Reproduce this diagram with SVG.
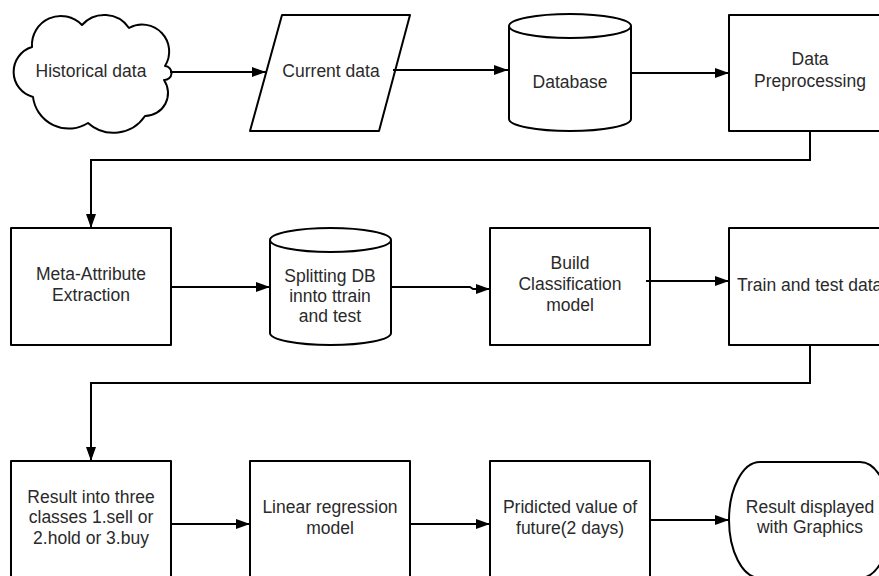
<svg xmlns="http://www.w3.org/2000/svg" width="879" height="576" viewBox="0 0 879 576">
<defs>
<marker id="arr" markerUnits="userSpaceOnUse" markerWidth="15" markerHeight="11" refX="14" refY="5" orient="auto">
<path d="M0,0 L14,5 L0,10 Z" fill="#000"/>
</marker>
<style>
.s{fill:#fff;stroke:#000;stroke-width:2;stroke-linejoin:round}
.t{font-family:"Liberation Sans",Arial,sans-serif;font-size:17.5px;fill:#2a2a2a;text-anchor:middle}
.c{fill:none;stroke:#000;stroke-width:2;marker-end:url(#arr)}
</style>
</defs>
<rect width="879" height="576" fill="#fff"/>
<g id="historical">
<path class="s" d="M33,97 A26,26 0 0 1 32,47 A29,29 0 0 1 82,25 A30,30 0 0 1 129,28 A27,27 0 0 1 165,66 A7,7 0 0 1 164,80 A23,23 0 0 1 145,116 A38,38 0 0 1 88,123 A36,36 0 0 1 33,97 Z"/>
<text class="t" x="91" y="77">Historical data</text>
</g>
<g id="current">
<path class="s" d="M282,15 L410,15 L379,131 L250,131 Z"/>
<text class="t" x="331" y="77">Current data</text>
</g>
<g id="database">
<path class="s" d="M509,26 A61,12 0 0 1 631,26 V119 A61,12 0 0 1 509,119 Z"/>
<path class="s" fill="none" d="M509,26 A61,12 0 0 0 631,26"/>
<text class="t" x="570" y="88">Database</text>
</g>
<g id="preprocessing">
<rect class="s" x="729" y="15" width="162" height="116"/>
<text class="t" x="810" y="65">Data</text>
<text class="t" x="810" y="87">Preprocessing</text>
</g>
<g id="meta">
<rect class="s" x="11" y="228" width="160" height="117"/>
<text class="t" x="91" y="280">Meta-Attribute</text>
<text class="t" x="91" y="301">Extraction</text>
</g>
<g id="splitting">
<path class="s" d="M270,240 A60.5,12 0 0 1 391,240 V333 A60.5,12 0 0 1 270,333 Z"/>
<path class="s" fill="none" d="M270,240 A60.5,12 0 0 0 391,240"/>
<text class="t" x="330" y="282">Splitting DB</text>
<text class="t" x="330" y="302">innto ttrain</text>
<text class="t" x="330" y="322">and test</text>
</g>
<g id="build">
<rect class="s" x="490" y="228" width="160" height="117"/>
<text class="t" x="570" y="269">Build</text>
<text class="t" x="570" y="290">Classification</text>
<text class="t" x="570" y="311">model</text>
</g>
<g id="train">
<rect class="s" x="729" y="228" width="162" height="117"/>
<text class="t" x="737" y="291" style="text-anchor:start">Train and test data</text>
</g>
<g id="result3">
<rect class="s" x="11" y="461" width="160" height="117"/>
<text class="t" x="91" y="503">Result into three</text>
<text class="t" x="91" y="523">classes 1.sell or</text>
<text class="t" x="91" y="544">2.hold or 3.buy</text>
</g>
<g id="linear">
<rect class="s" x="250" y="461" width="160" height="117"/>
<text class="t" x="330" y="513">Linear regression</text>
<text class="t" x="330" y="534">model</text>
</g>
<g id="predicted">
<rect class="s" x="490" y="461" width="160" height="117"/>
<text class="t" x="570" y="513">Pridicted value of</text>
<text class="t" x="570" y="534">future(2 days)</text>
</g>
<g id="display">
<path class="s" d="M760,462 H860 C878,462 891,490 891,520 C891,550 878,578 860,578 H760 C742,578 729,550 729,520 C729,490 742,462 760,462 Z"/>
<text class="t" x="810" y="513">Result displayed</text>
<text class="t" x="810" y="533">with Graphics</text>
</g>
<g id="connectors">
<path class="c" d="M170,72 H266"/>
<path class="c" d="M393,70 H508"/>
<path class="c" d="M631,73 H729"/>
<path class="c" d="M810,131 V160 H91 V228"/>
<path class="c" d="M171,287 H270"/>
<path class="c" d="M391,287 H470 L473,289 H490"/>
<path class="c" d="M646,281 H729"/>
<path class="c" d="M810,345 V383 H91 V461"/>
<path class="c" d="M171,524 H250"/>
<path class="c" d="M410,524 H490"/>
<path class="c" d="M650,520 H729"/>
</g>
</svg>
